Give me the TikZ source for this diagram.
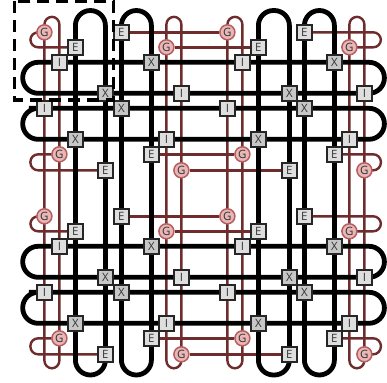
\documentclass[tikz,border=0pt]{standalone}
\usepackage{fontspec}
\setmainfont{Open Sans}
\pgfdeclarelayer{wires}
\pgfdeclarelayer{redwires}
\pgfsetlayers{redwires,wires,main}
\definecolor{redwire}{HTML}{6E2C2C}
\definecolor{redfill}{HTML}{E9B7B7}
\definecolor{redline}{HTML}{B75E5E}
\tikzset{
  x=1bp,y=-1bp,
  gatebox/.style={draw=black!85,line width=1.7bp,minimum size=14.8bp,inner sep=0pt,font=\fontsize{11.5bp}{12bp}\selectfont,text=black!80},
  ebox/.style={gatebox,fill=black!13},
  ibox/.style={gatebox,fill=black!13},
  xbox/.style={gatebox,fill=black!22},
  gcirc/.style={circle,draw=redline,fill=redfill,line width=1.5bp,minimum size=15bp,inner sep=0pt,font=\fontsize{11.5bp}{12bp}\selectfont,text=black!80},
  hloop/.style={draw=black,line width=4.8bp,rounded corners=15.4bp},
  vloop/.style={draw=black,line width=4.8bp,rounded corners=15bp},
  redloop/.style={draw=redwire,line width=2.4bp,rounded corners=7.7bp},
  redlink/.style={draw=redwire,line width=2.4bp},
  frame/.style={draw=black,line width=3.2bp,dash pattern=on 12bp off 7bp}
}
\begin{document}
\begin{tikzpicture}
\useasboundingbox (0,0) rectangle (387,383);
\begin{scope}[shift={(0.4,0.3)}]
% side limits of the loops
\coordinate (rl) at (30,0);
\coordinate (rr) at (380.5,0);
\coordinate (bl) at (22.3,0);
\coordinate (br) at (384,0);
\coordinate (bt) at (0,10.2);
\coordinate (bb) at (0,374.7);
\coordinate (rt) at (0,16.5);
\coordinate (rb) at (0,368);
% the two repeated rows of gates
\foreach \o/\s in {0/a,184/b}{
  \begin{scope}[yshift=-\o bp]
  \node[gcirc] (G1\s) at (44,32) {G};
  \node[ebox] (E1\s) at (75,47) {E};
  \node[ebox] (E2\s) at (121,32) {E};
  \node[gcirc] (G2\s) at (166,47) {G};
  \node[gcirc] (G3\s) at (227,32) {G};
  \node[ebox] (E3\s) at (258,47) {E};
  \node[ebox] (E4\s) at (304,32) {E};
  \node[gcirc] (G4\s) at (349,47) {G};
  \node[ibox] (I1\s) at (59,62) {I};
  \node[xbox] (X1\s) at (151,62) {X};
  \node[ibox] (I2\s) at (242,62) {I};
  \node[xbox] (X2\s) at (334,62) {X};
  \node[xbox] (X3\s) at (105,93) {X};
  \node[ibox] (I3\s) at (181,93) {I};
  \node[xbox] (X4\s) at (289,93) {X};
  \node[ibox] (I4\s) at (364,93) {I};
  \node[ibox] (I5\s) at (44,108) {I};
  \node[xbox] (X5\s) at (121,108) {X};
  \node[ibox] (I6\s) at (227,108) {I};
  \node[xbox] (X6\s) at (304,108) {X};
  \node[xbox] (X7\s) at (75,139) {X};
  \node[ibox] (I7\s) at (166,139) {I};
  \node[xbox] (X8\s) at (258,139) {X};
  \node[ibox] (I8\s) at (349,139) {I};
  \node[gcirc] (G5\s) at (59,154) {G};
  \node[ebox] (E5\s) at (151,154) {E};
  \node[gcirc] (G6\s) at (242,154) {G};
  \node[ebox] (E6\s) at (334,154) {E};
  \node[ebox] (E7\s) at (105,170) {E};
  \node[gcirc] (G7\s) at (181,170) {G};
  \node[ebox] (E8\s) at (289,170) {E};
  \node[gcirc] (G8\s) at (364,170) {G};
  \end{scope}
  \begin{pgfonlayer}{redwires}
    \path[redloop] (G1\s.center) -- (G1\s.center -| rl) -- (E1\s.center -| rl) -- (E1\s.center);
    \path[redlink] (E2\s) -- (G3\s);
    \path[redlink] (G2\s) -- (E3\s);
    \path[redloop] (E4\s.center) -- (E4\s.center -| rr) -- (G4\s.center -| rr) -- (G4\s.center);
    \path[redloop] (G5\s.center) -- (G5\s.center -| rl) -- (E7\s.center -| rl) -- (E7\s.center);
    \path[redlink] (E5\s) -- (G6\s);
    \path[redlink] (G7\s) -- (E8\s);
    \path[redloop] (E6\s.center) -- (E6\s.center -| rr) -- (G8\s.center -| rr) -- (G8\s.center);
  \end{pgfonlayer}
  \begin{pgfonlayer}{wires}
    \path[hloop] (I1\s.center) -- (I1\s.center -| br) -- (X3\s.center -| br) -- (X3\s.center -| bl) -- (I1\s.center -| bl) -- cycle;
    \path[hloop] (I5\s.center) -- (I5\s.center -| br) -- (X7\s.center -| br) -- (X7\s.center -| bl) -- (I5\s.center -| bl) -- cycle;
  \end{pgfonlayer}
}
% vertical loops
\begin{pgfonlayer}{redwires}
  \foreach \l/\r in {G1a/G5a,G2a/G7a,G3a/G6a,G4a/G8a}{
    \path[redloop] (\l.center) -- (\l.center |- rt) -- (\r.center |- rt) -- (\r.center |- rb) -- (\l.center |- rb) -- cycle;
  }
\end{pgfonlayer}
\begin{pgfonlayer}{wires}
  \foreach \l/\r in {X7a/X3a,X5a/X1a,X8a/X4a,X6a/X2a}{
    \path[vloop] (\l.center) -- (\l.center |- bt) -- (\r.center |- bt) -- (\r.center |- bb) -- (\l.center |- bb) -- cycle;
  }
\end{pgfonlayer}
\end{scope}
% highlighted cell
\path[frame] (14.5,1) rectangle (113.5,100);
\end{tikzpicture}
\end{document}
